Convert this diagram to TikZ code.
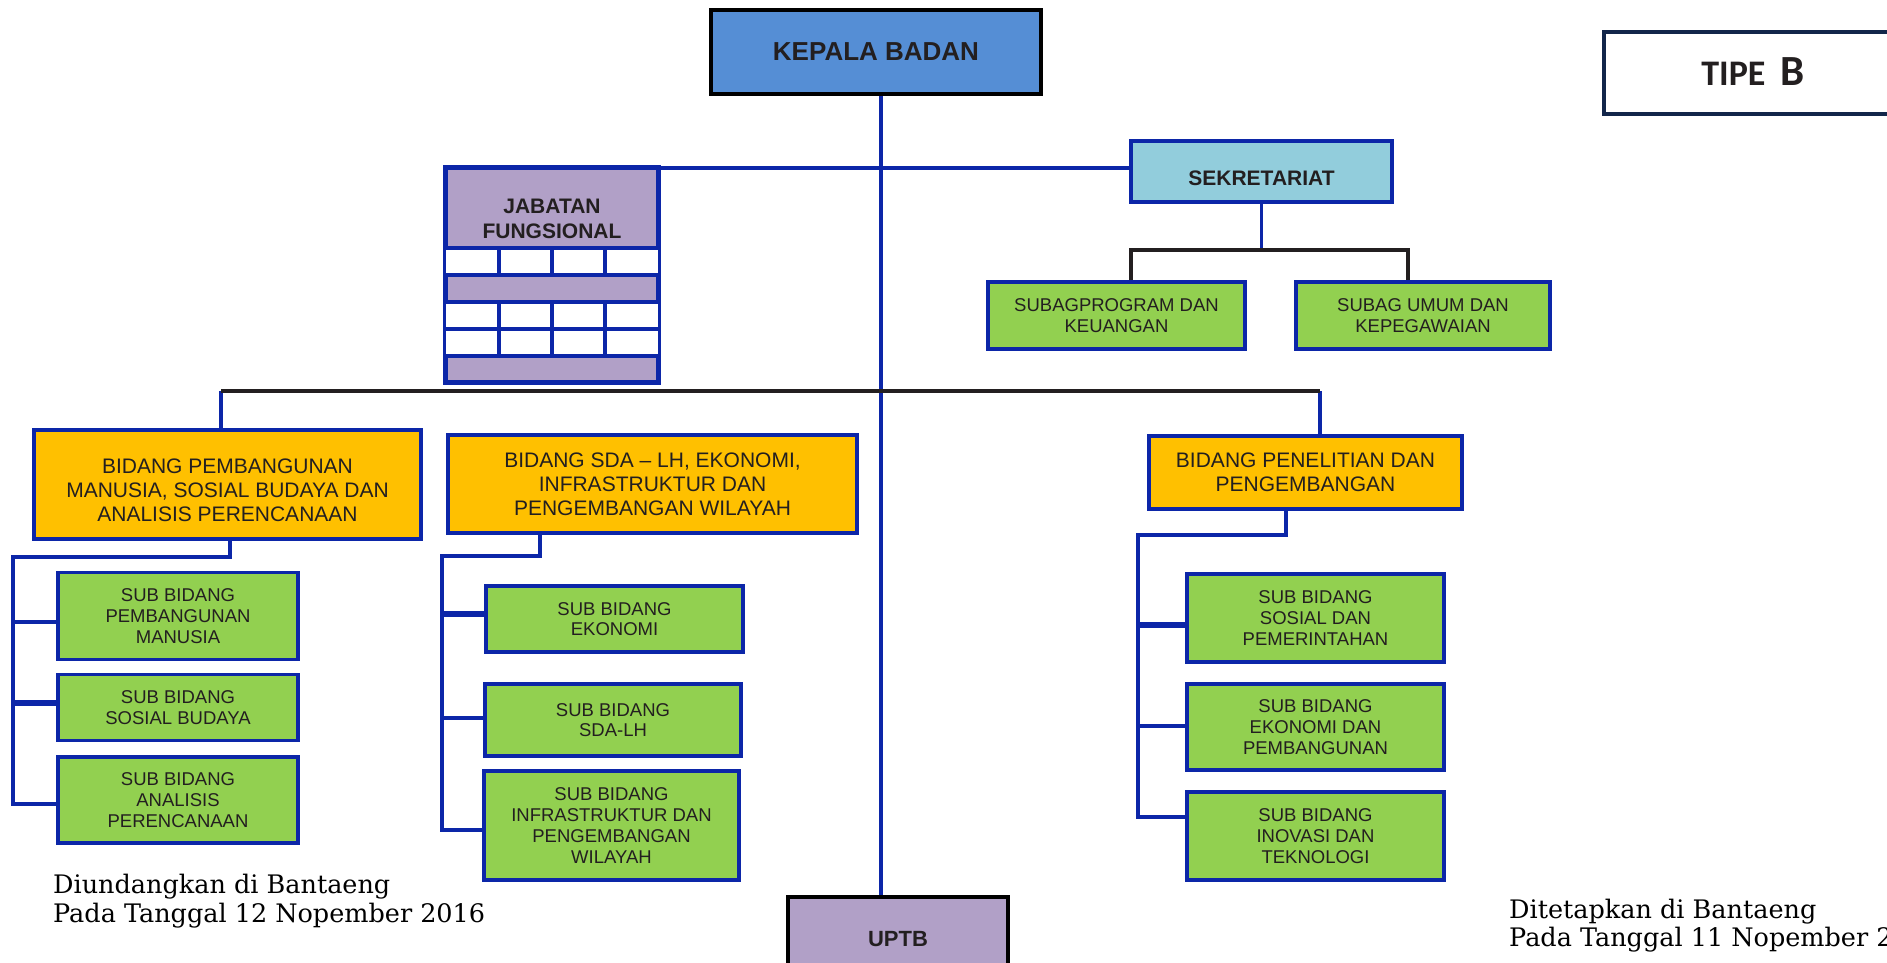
\documentclass[tikz,border=0pt]{standalone}
\usepackage{fontspec}
\setmainfont{Liberation Sans}
\newfontfamily\serifx{DejaVu Serif}
\newfontfamily\calib{Carlito}
\definecolor{lblue}{RGB}{12,38,168}
\definecolor{grn}{RGB}{146,208,80}
\definecolor{ylw}{RGB}{255,192,0}
\definecolor{prp}{RGB}{177,160,199}
\definecolor{sky}{RGB}{146,205,220}
\definecolor{kb}{RGB}{85,142,213}
\definecolor{navy}{RGB}{18,38,74}
\definecolor{txt}{RGB}{35,31,32}
\tikzset{
  ln/.style={draw=lblue, line width=3.4pt},
  thk/.style={draw=lblue, line width=5.5pt},
  bk/.style={draw=txt, line width=4pt},
  bx/.style={draw=lblue, line width=3.4pt, align=center, inner sep=0pt, text=txt},
  gr/.style={bx, fill=grn, font=\fontsize{18.5}{20.7}\selectfont},
  yl/.style={bx, fill=ylw, font=\fontsize{21}{24}\selectfont},
  hd/.style={bx, font=\bfseries\fontsize{21}{25}\selectfont},
  lbl/.style={text=txt, align=center, inner sep=0pt},
  sig/.style={anchor=base west, inner sep=0pt, text=black, font=\serifx\fontsize{25.5}{29}\selectfont}
}
\begin{document}
\begin{tikzpicture}[x=1pt,y=-1pt]
\useasboundingbox (0,0) rectangle (1887,963);
\clip (0,0) rectangle (1887,963);
\fill[white] (0,0) rectangle (1887,963);

% head
\node[hd, draw=black, line width=4pt, fill=kb, minimum width=330pt, minimum height=84pt,
      font=\bfseries\fontsize{26}{30}\selectfont] (kepala) at (876,52) {KEPALA BADAN};
\node[draw=navy, line width=4pt, minimum width=300pt, minimum height=82pt, anchor=west] (tipe) at (1602,73) {};
\node[lbl, font=\calib\bfseries\fontsize{36}{40}\selectfont] (tipet) at (1753,72)
      {TIPE\hspace{15pt}{\fontsize{43}{46}\selectfont B}};

% sekretariat
\node[bx, fill=sky, minimum width=261pt, minimum height=61pt] (sek) at (1261.5,171.5) {};
\node[lbl, font=\bfseries\fontsize{21}{25}\selectfont] (sekt) at (1261.5,178) {SEKRETARIAT};
\node[gr, minimum width=257pt, minimum height=67pt] (subag1) at (1116.5,315.5) {SUBAGPROGRAM DAN\\KEUANGAN};
\node[gr, minimum width=254pt, minimum height=67pt] (subag2) at (1423,315.5) {SUBAG UMUM DAN\\KEPEGAWAIAN};

% jabatan fungsional
\node[bx, fill=prp, minimum width=212pt, minimum height=214pt] (jab) at (552,275) {};
\fill[white] (446,248) rectangle (658,275);
\fill[white] (446,302) rectangle (658,356);
\foreach \yy in {248,275,302,329,356} \draw[ln] (446,\yy) -- (658,\yy);
\foreach \xx in {499,552,605} {\draw[ln] (\xx,248) -- (\xx,275); \draw[ln] (\xx,302) -- (\xx,356);}
\draw[ln] (jab.north west) rectangle (jab.south east);
\node[lbl, font=\bfseries\fontsize{21}{25}\selectfont] (jabt) at (552,219) {JABATAN\\FUNGSIONAL};

% bidang
\node[bx, fill=ylw, minimum width=387pt, minimum height=109pt] (bid1) at (227.5,484.5) {};
\node[lbl, font=\fontsize{21}{24}\selectfont] (bid1t) at (227.5,490.5) {BIDANG PEMBANGUNAN\\MANUSIA, SOSIAL BUDAYA DAN\\ANALISIS PERENCANAAN};
\node[yl, minimum width=409pt, minimum height=98pt] (bid2) at (652.5,484) {BIDANG SDA -- LH, EKONOMI,\\INFRASTRUKTUR DAN\\PENGEMBANGAN WILAYAH};
\node[yl, minimum width=313pt, minimum height=73pt] (bid3) at (1305.5,472.5) {BIDANG PENELITIAN DAN\\PENGEMBANGAN};

% sub bidang
\node[gr, minimum width=240pt, minimum height=87pt] (L1) at (178,616) {SUB BIDANG\\PEMBANGUNAN\\MANUSIA};
\node[gr, minimum width=240pt, minimum height=66pt] (L2) at (178,707.5) {SUB BIDANG\\SOSIAL BUDAYA};
\node[gr, minimum width=240pt, minimum height=86pt] (L3) at (178,800) {SUB BIDANG\\ANALISIS\\PERENCANAAN};

\node[gr, minimum width=257pt, minimum height=66pt] (M1) at (614.5,619) {SUB BIDANG\\EKONOMI};
\node[gr, minimum width=256pt, minimum height=72pt] (M2) at (613,720) {SUB BIDANG\\SDA-LH};
\node[gr, minimum width=255pt, minimum height=109pt] (M3) at (611.5,825.5) {SUB BIDANG\\INFRASTRUKTUR DAN\\PENGEMBANGAN\\WILAYAH};

\node[gr, minimum width=257pt, minimum height=88pt] (R1) at (1315.5,618) {SUB BIDANG\\SOSIAL DAN\\PEMERINTAHAN};
\node[gr, minimum width=257pt, minimum height=86pt] (R2) at (1315.5,727) {SUB BIDANG\\EKONOMI DAN\\PEMBANGUNAN};
\node[gr, minimum width=257pt, minimum height=88pt] (R3) at (1315.5,836) {SUB BIDANG\\INOVASI DAN\\TEKNOLOGI};

% uptb
\node[hd, draw=black, line width=4pt, fill=prp, minimum width=220pt, minimum height=84pt,
      font=\bfseries\fontsize{22}{26}\selectfont] (uptb) at (898,939) {UPTB};

% signatures
\node[sig] (s1) at (53,893) {Diundangkan di Bantaeng};
\node[sig] (s2) at (53,922) {Pada Tanggal 12 Nopember 2016};
\node[sig] (s3) at (1509,918) {Ditetapkan di Bantaeng};
\node[sig] (s4) at (1509,946) {Pada Tanggal 11 Nopember 2016};

% connectors
\coordinate (sx) at (881,0);
\draw[ln] (kepala.south -| sx) -- (uptb.north -| sx);
\coordinate (jl) at (624,168);
\draw[ln] (jl) -- (jl -| sek.west);
\coordinate (sb) at (1261.5,250);
\coordinate (sa) at (1131,250);
\coordinate (sc) at (1408,250);
\draw[ln] (sek.south) -- (sb);
\draw[bk] (sa |- subag1.north) -- (sa) -- (sc) -- (sc |- subag2.north);

\coordinate (ha) at (221,391);
\coordinate (hb) at (1320,391);
\draw[ln] (ha) -- (ha |- bid1.north);
\draw[ln] (hb) -- (hb |- bid3.north);
\draw[bk] (ha) -- (hb);

\coordinate (lt) at (230,557);
\coordinate (lc) at (13,557);
\coordinate (lb) at (13,804);
\coordinate (l1) at (13,622);
\coordinate (l2) at (13,703);
\draw[ln] (lt |- bid1.south) -- (lt) -- (lc) -- (lb) -- (lb -| L3.west);
\draw[ln] (l1) -- (l1 -| L1.west);
\draw[thk] (l2) -- (l2 -| L2.west);

\coordinate (mt) at (540,556);
\coordinate (mc) at (442,556);
\coordinate (mb) at (442,830);
\coordinate (m1) at (442,614);
\coordinate (m2) at (442,718);
\draw[ln] (mt |- bid2.south) -- (mt) -- (mc) -- (mb) -- (mb -| M3.west);
\draw[thk] (m1) -- (m1 -| M1.west);
\draw[ln] (m2) -- (m2 -| M2.west);

\coordinate (rt) at (1286,535);
\coordinate (rc) at (1138,535);
\coordinate (rb) at (1138,817);
\coordinate (r1) at (1138,625);
\coordinate (r2) at (1138,726);
\draw[ln] (rt |- bid3.south) -- (rt) -- (rc) -- (rb) -- (rb -| R3.west);
\draw[thk] (r1) -- (r1 -| R1.west);
\draw[ln] (r2) -- (r2 -| R2.west);
\end{tikzpicture}
\end{document}
